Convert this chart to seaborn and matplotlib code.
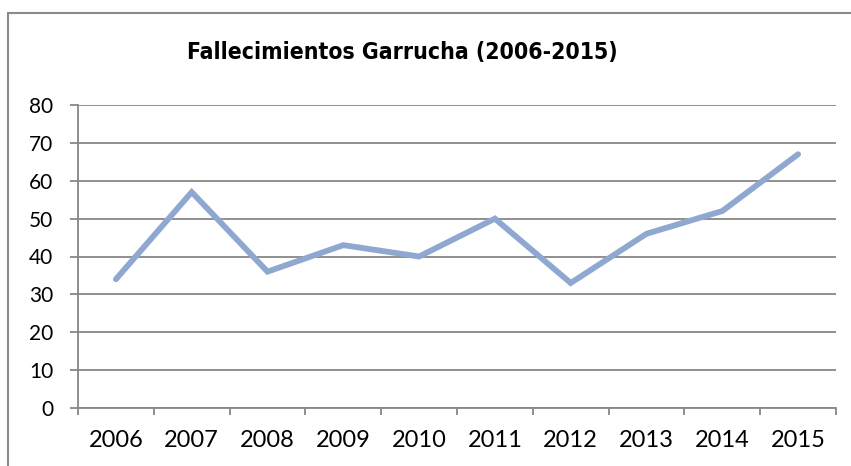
import matplotlib
matplotlib.use("Agg")
import matplotlib.pyplot as plt
from matplotlib.ticker import FixedLocator, MultipleLocator
from matplotlib.patches import Rectangle
import seaborn as sns
import pandas as pd

years = ["2006", "2007", "2008", "2009", "2010", "2011", "2012", "2013", "2014", "2015"]
deaths = [34, 57, 36, 43, 40, 50, 33, 46, 52, 67]
title = "Fallecimientos Garrucha (2006-2015)"

df = pd.DataFrame({"year": years, "deaths": deaths})

sns.set_theme(style="white")
plt.rcParams["font.family"] = ["Lato", "DejaVu Sans"]

fig = plt.figure(figsize=(8.51, 4.66), dpi=100)
ax = fig.add_axes([78 / 851, 1 - 408 / 466, (836 - 78) / 851, (408 - 105) / 466])

grid_c = "#878787"
sns.lineplot(data=df, x="year", y="deaths", ax=ax, color="#8FA8CF",
             linewidth=4.2, sort=False, solid_joinstyle="miter", zorder=3)

ax.set_xlim(-0.5, len(years) - 0.5)
ax.set_ylim(0, 80)
ax.yaxis.set_major_locator(MultipleLocator(10))
ax.yaxis.grid(True, color=grid_c, linewidth=1.3)
ax.xaxis.grid(False)

# category boundaries carry the tick marks, labels sit at category centres
ax.xaxis.set_minor_locator(FixedLocator([i - 0.5 for i in range(len(years) + 1)]))
ax.tick_params(axis="x", which="major", length=0, pad=16, labelsize=17, labelcolor="black")
ax.tick_params(axis="x", which="minor", bottom=True, length=5, width=1.3, color=grid_c, direction="out")
ax.tick_params(axis="y", which="major", left=True, length=5.8, width=1.3, color=grid_c,
               direction="out", pad=12, labelsize=15, labelcolor="black")

for side in ["top", "right"]:
    ax.spines[side].set_visible(False)
for side in ["left", "bottom"]:
    ax.spines[side].set_color(grid_c)
    ax.spines[side].set_linewidth(1.3)

ax.set_xlabel("")
ax.set_ylabel("")

fig.text(402 / 851, 1 - 52 / 466, title, ha="center", va="center",
         fontsize=16.5, fontweight="bold", fontstretch="condensed",
         family=["DejaVu Sans"], color="black")

# chart frame
fig.add_artist(Rectangle((8 / 851, -0.1), 1.2, 1 - 13 / 466 + 0.1, transform=fig.transFigure,
                         fill=False, edgecolor="#8a8a8a", linewidth=1.5))

fig.savefig("out.png", dpi=100, facecolor="white")
